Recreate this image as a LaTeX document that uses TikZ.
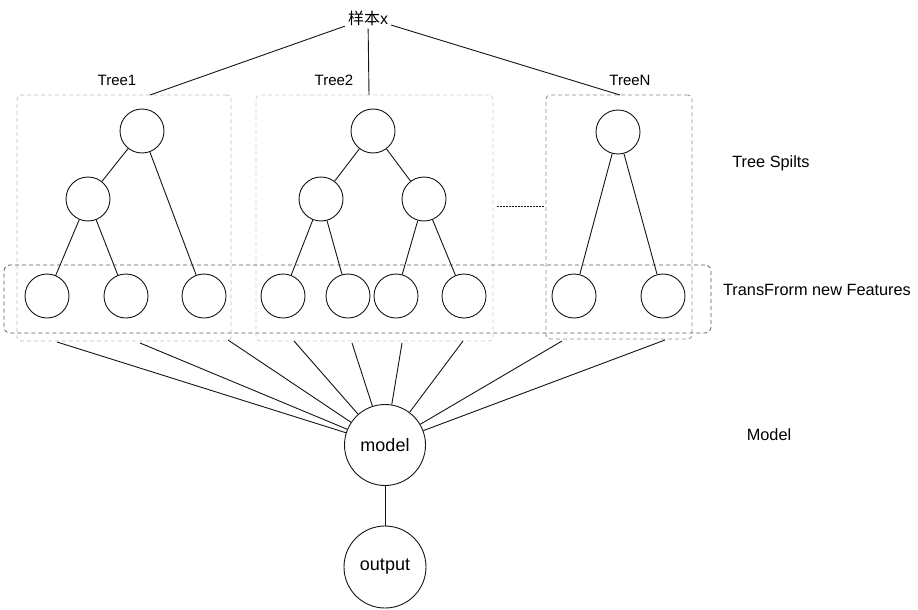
\documentclass[tikz,border=0pt]{standalone}
\usepackage{fontspec}
\setmainfont{Liberation Sans}
\newfontfamily\cjk{Noto Sans CJK SC}
\definecolor{boxA}{RGB}{210,180,185}
\definecolor{boxB}{RGB}{190,218,190}
\definecolor{boxC}{RGB}{140,140,152}
\definecolor{lineC}{RGB}{20,20,20}
\begin{document}
\begin{tikzpicture}[x=1pt,y=-1pt,
  nd/.style={circle,draw=lineC,line width=0.9pt,minimum size=44pt,inner sep=0pt},
  bignd/.style={circle,draw=lineC,line width=0.9pt,minimum size=81pt,inner sep=0pt,font=\fontsize{18}{20}\selectfont},
  tbox/.style={draw,dash pattern=on 4pt off 3pt,line width=0.8pt,rounded corners=4pt,inner sep=0pt},
  edge/.style={draw=lineC,line width=0.9pt},
  lbl/.style={font=\fontsize{15}{17}\selectfont,inner sep=1pt},
  rlbl/.style={font=\fontsize{16.3}{19}\selectfont,inner sep=1pt}]
\useasboundingbox (0,0) rectangle (918,610);
% boxes
\node[tbox,draw=boxA,minimum width=214pt,minimum height=246pt] (box1) at (124,218) {};
\node[tbox,draw=boxB,minimum width=237pt,minimum height=246pt] (box2) at (374.5,218) {};
\node[tbox,draw=boxC,minimum width=146pt,minimum height=244pt] (box3) at (619,217) {};
\node[tbox,draw=black!65,minimum width=707pt,minimum height=68pt,rounded corners=6pt] (tf) at (357.5,299) {};
% labels
\node[font=\fontsize{16}{18}\selectfont,inner sep=3pt] (sx) at (368,18) {{\cjk 样本}x};
\node[lbl] (t1) at (117,80) {Tree1};
\node[lbl] (t2) at (334,80) {Tree2};
\node[lbl] (t3) at (630,80) {TreeN};
\node[rlbl] (ts) at (771,163) {Tree Spilts};
\node[rlbl] (tnf) at (817,290) {TransFrorm new Features};
\node[rlbl] (ml) at (769,435) {Model};
\coordinate (c1) at (150,95);
\coordinate (c2) at (369,95);
\coordinate (c3) at (620,95);
\draw[edge] (sx) -- (c1);
\draw[edge] (sx) -- (c2);
\draw[edge] (sx) -- (c3);
% tree 1
\node[nd] (r1) at (142,131) {};
\node[nd] (m1) at (88,199) {};
\node[nd] (l11) at (47,296) {};
\node[nd] (l12) at (126,296) {};
\node[nd] (l13) at (204,296) {};
\draw[edge] (r1) -- (m1);
\draw[edge] (r1) -- (l13);
\draw[edge] (m1) -- (l11);
\draw[edge] (m1) -- (l12);
% tree 2
\node[nd] (r2) at (373,131) {};
\node[nd] (m21) at (321,199) {};
\node[nd] (m22) at (424,199) {};
\node[nd] (l21) at (283,296) {};
\node[nd] (l22) at (348,296) {};
\node[nd] (l23) at (396,296) {};
\node[nd] (l24) at (464,296) {};
\draw[edge] (r2) -- (m21);
\draw[edge] (r2) -- (m22);
\draw[edge] (m21) -- (l21);
\draw[edge] (m21) -- (l22);
\draw[edge] (m22) -- (l23);
\draw[edge] (m22) -- (l24);
% tree N
\node[nd] (r3) at (618,132) {};
\node[nd] (l31) at (574,296) {};
\node[nd] (l32) at (663,296) {};
\draw[edge] (r3) -- (l31);
\draw[edge] (r3) -- (l32);
% dots
\coordinate (d1) at (497,206);
\coordinate (d2) at (545,206);
\draw[lineC,line width=1pt,dash pattern=on 1.5pt off 1.5pt] (d1) -- (d2);
% model
\node[bignd] (model) at (385,445) {model};
\node[bignd,minimum size=82pt] (out) at (385,567) {output};
\draw[edge] (model) -- (out);
\foreach \i/\x/\y in {1/57/342,2/140/343,3/228/340,4/294/341,5/352/343,6/402/343,7/463/341,8/562/341,9/665/340}{
  \coordinate (b\i) at (\x,\y);
  \draw[edge] (b\i) -- (model);
}
\end{tikzpicture}
\end{document}
